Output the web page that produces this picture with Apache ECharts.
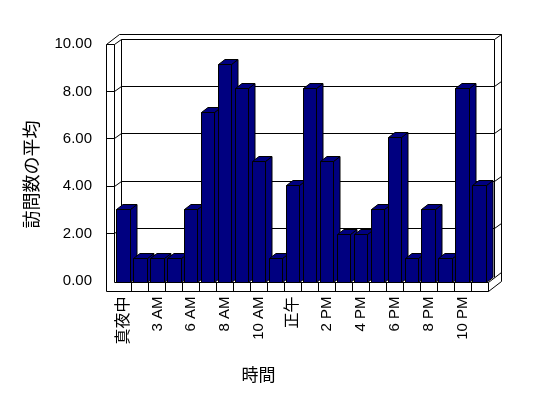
<!DOCTYPE html>
<html><head><meta charset="utf-8">
<script src="https://cdn.jsdelivr.net/npm/echarts@6/dist/echarts.min.js"></script>
<style>html,body{margin:0;padding:0;background:#fff}#c{width:548px;height:398px}</style>
</head><body><div id="c"></div>
<script>
// ---- data ----
const categories = ['真夜中','1 AM','3 AM','5 AM','6 AM','7 AM','8 AM','9 AM','10 AM','11 AM','正午','1 PM','2 PM','3 PM','4 PM','5 PM','6 PM','7 PM','8 PM','9 PM','10 PM','11 PM'];
const visits = [3,1,1,1,3,7,9,8,5,1,4,8,5,2,2,3,6,1,3,1,8,4];
const yTicks = [0,2,4,6,8,10];
const yTitle = '訪問数の平均';
const xTitle = '時間';

// ---- style ----
const FONT = '"Liberation Sans", "Noto Sans CJK JP", sans-serif';
const NAVY = '#000080';
const DX = 6.5, DY = -5, WALL = 8.5;
const px = v => Math.round(v - 0.5) + 0.5;

const chart = echarts.init(document.getElementById('c'), null, {renderer:'canvas'});
const barStyle = {fill: NAVY, stroke: '#000', lineWidth: 1};

function renderBar(params, api) {
  const i = api.value(0), v = api.value(1);
  const top = api.coord([i, v]), base = api.coord([i, 0]);
  const band = api.size([1, 0])[0];
  const w = band * 0.79;
  const L = px(top[0] - w / 2), R = px(top[0] + w / 2);
  const T = px(top[1]), B = px(base[1]);
  return {type: 'group', children: [
    {type: 'polygon', shape: {points: [[R, T], [R + DX, T + DY], [R + DX, B + DY], [R, B]]}, style: barStyle},
    {type: 'polygon', shape: {points: [[L, T], [L + DX, T + DY], [R + DX, T + DY], [R, T]]}, style: barStyle},
    {type: 'rect', shape: {x: L, y: T, width: R - L, height: B - T}, style: barStyle}
  ]};
}

chart.setOption({
  animation: false,
  backgroundColor: '#fff',
  grid: [
    {left: 115, right: 60, top: 40, bottom: 115.5},
    {left: 115, right: 60, top: 44, bottom: 117}
  ],
  xAxis: [
    {type: 'category', gridIndex: 0, data: categories,
     axisLine: {show: false}, axisTick: {show: false}, splitLine: {show: false},
     axisLabel: {interval: 1, rotate: 90, margin: 14, fontSize: 15, color: '#000', fontFamily: FONT,
                 formatter: v => /^[\x00-\x7f]*$/.test(v) ? v : '{c|' + v + '}',
                 rich: {c: {fontSize: 16, fontFamily: FONT, color: '#000'}}}},
    {type: 'value', gridIndex: 1, min: 0, max: 1, show: false}
  ],
  yAxis: [
    {type: 'value', gridIndex: 0, min: 0, max: 10, show: false},
    {type: 'value', gridIndex: 1, min: yTicks[0], max: yTicks[yTicks.length - 1], interval: yTicks[1] - yTicks[0],
     axisLine: {show: false}, axisTick: {show: false}, splitLine: {show: false},
     axisLabel: {margin: 23, fontSize: 15, color: '#000', fontFamily: FONT,
                 formatter: v => Number(v).toFixed(2)}}
  ],
  series: [{
    type: 'custom', xAxisIndex: 0, yAxisIndex: 0, z: 3,
    data: visits.map((v, i) => [i, v]),
    encode: {x: 0, y: 1},
    renderItem: renderBar
  }]
});

// ---- 3D frame from axis scales ----
const p0 = chart.convertToPixel({gridIndex: 0}, [0, 0]);
const p1 = chart.convertToPixel({gridIndex: 0}, [1, 0]);
const pn = chart.convertToPixel({gridIndex: 0}, [categories.length - 1, 0]);
const band = p1[0] - p0[0];
const xl = p0[0] - band / 2, xr = pn[0] + band / 2;
const yb = p0[1];
const yw = v => chart.convertToPixel({gridIndex: 1}, [0, v])[1];
const yTop = yw(yTicks[yTicks.length - 1]);
const xo = xl - WALL, yfb = yb + WALL;

const segs = [];
const seg = (a, b) => segs.push([[px(a[0]), px(a[1])], [px(b[0]), px(b[1])]]);
seg([xo, yTop], [xo, yfb]);
seg([xl, yTop], [xl, yb]);
seg([xo, yTop], [xl, yTop]);
seg([xl, yTop], [xl + DX, yTop + DY]);
seg([xo, yTop], [xo + 2 * DX, yTop + 2 * DY]);
seg([xo + 2 * DX, yTop + 2 * DY], [xr + 2 * DX, yTop + 2 * DY]);
seg([xl + DX, yTop + DY], [xr + DX, yTop + DY]);
seg([xl + DX, yTop + DY], [xl + DX, yb + DY]);
seg([xr + DX, yTop + DY], [xr + DX, yb + DY]);
seg([xr + DX, yTop + DY], [xr + 2 * DX, yTop + 2 * DY]);
seg([xr + 2 * DX, yTop + 2 * DY], [xr + 2 * DX, yfb + 2 * DY]);
seg([xl, yb], [xr, yb]);
seg([xo, yfb], [xr, yfb]);
seg([xr, yb], [xr, yfb]);
seg([xr, yb], [xr + 2 * DX, yb + 2 * DY]);
seg([xr, yfb], [xr + 2 * DX, yfb + 2 * DY]);
for (let k = 1; k < categories.length; k++) seg([xl + k * band, yb], [xl + k * band, yfb]);
yTicks.slice(1, -1).forEach(v => {
  const y = yw(v);
  seg([xo, y], [xl, y]);
  seg([xl, y], [xl + DX, y + DY]);
  seg([xl + DX, y + DY], [xr + DX, y + DY]);
  seg([xr + DX, y + DY], [xr + 2 * DX, y + 2 * DY]);
});

const graphics = segs.map(s => ({
  type: 'polyline', z: 0, silent: true,
  shape: {points: s}, style: {stroke: '#000', lineWidth: 1, fill: null}
}));
graphics.push({type: 'text', z: 5, x: 33, y: (yTop + yw(0)) / 2 + 12, rotation: Math.PI / 2,
  style: {text: yTitle, fontSize: 18, fontFamily: FONT, fill: '#000', align: 'center', verticalAlign: 'middle'}});
graphics.push({type: 'text', z: 5, x: (xl + xr) / 2 - 43, y: 376,
  style: {text: xTitle, fontSize: 17, fontFamily: FONT, fill: '#000', align: 'center', verticalAlign: 'middle'}});
chart.setOption({graphic: graphics});
</script>
</body></html>
